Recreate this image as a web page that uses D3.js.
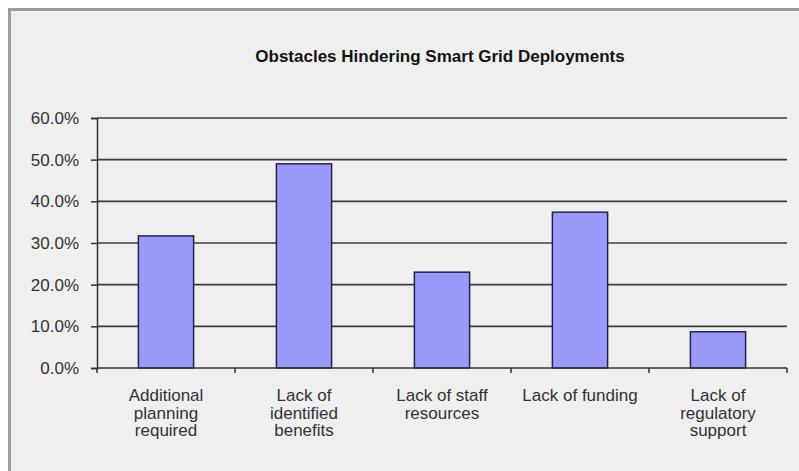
<!DOCTYPE html>
<html>
<head>
<meta charset="utf-8">
<script src="https://cdn.jsdelivr.net/npm/d3@7"></script>
<style>
  html, body { margin: 0; padding: 0; background: #ffffff; }
  svg { display: block; }
  text { font-family: "Liberation Sans", Arial, sans-serif; }
</style>
</head>
<body>
<svg id="chart" width="799" height="471"></svg>
<script>
// Survey results: share of respondents naming each obstacle
const categories = [
  "Additional planning required",
  "Lack of identified benefits",
  "Lack of staff resources",
  "Lack of funding",
  "Lack of regulatory support"
];
const shares = [0.317, 0.490, 0.230, 0.374, 0.087];
const yTicks = [0, 0.1, 0.2, 0.3, 0.4, 0.5, 0.6];
const chartTitle = "Obstacles Hindering Smart Grid Deployments";

const svg = d3.select("#chart");
const W = 799, H = 471;
const plot = { left: 97, right: 787, top: 118, bottom: 368 };

// chart area background with the frame on its top and left edges
svg.append("rect").attr("x", 8).attr("y", 8).attr("width", W - 8).attr("height", H - 8)
  .attr("fill", "#efefef");
svg.append("line").attr("x1", 8).attr("x2", W).attr("y1", 9.5).attr("y2", 9.5)
  .attr("stroke", "#9c9c9c").attr("stroke-width", 3);
svg.append("line").attr("x1", 9.5).attr("x2", 9.5).attr("y1", 8).attr("y2", H)
  .attr("stroke", "#9c9c9c").attr("stroke-width", 3);

const x = d3.scaleBand().domain(categories).range([plot.left, plot.right])
  .paddingInner(0.6).paddingOuter(0.3);
const xBand = d3.scaleBand().domain(categories).range([plot.left, plot.right]);
const y = d3.scaleLinear().domain([0, 0.6]).range([plot.bottom, plot.top]);

// title
svg.append("text")
  .attr("x", 440).attr("y", 62)
  .attr("text-anchor", "middle")
  .attr("font-size", 17).attr("font-weight", "bold")
  .attr("fill", "#141414")
  .text(chartTitle);

// horizontal gridlines
svg.append("g").selectAll("line").data(yTicks.slice(1)).join("line")
  .attr("x1", plot.left).attr("x2", plot.right)
  .attr("y1", d => y(d)).attr("y2", d => y(d))
  .attr("stroke", "#3c3c3c").attr("stroke-width", 1.7);

// bars
svg.append("g").selectAll("rect").data(shares).join("rect")
  .attr("x", (d, i) => x(categories[i]))
  .attr("width", x.bandwidth())
  .attr("y", d => y(d))
  .attr("height", d => y(0) - y(d))
  .attr("fill", "#9999fa")
  .attr("stroke", "#22224a").attr("stroke-width", 1.5);

// y axis
const yAxis = d3.axisLeft(y).tickValues(yTicks).tickFormat(d3.format(".1%"))
  .tickSize(6).tickPadding(12);
const gy = svg.append("g").attr("transform", `translate(${plot.left},0)`).call(yAxis);
gy.select(".domain").attr("stroke", "#333").attr("stroke-width", 1.5);
gy.selectAll(".tick line").attr("stroke", "#333").attr("stroke-width", 1.5);
gy.selectAll(".tick text").attr("font-size", 17).attr("fill", "#333")
  .attr("font-family", "Liberation Sans, Arial, sans-serif");

// x axis: ticks on the category boundaries
const gx = svg.append("g");
gx.append("line").attr("x1", plot.left).attr("x2", plot.right)
  .attr("y1", y(0)).attr("y2", y(0))
  .attr("stroke", "#333").attr("stroke-width", 1.5);
const boundaries = categories.map(c => xBand(c)).concat([plot.right]);
gx.selectAll("line.b").data(boundaries).join("line").attr("class", "b")
  .attr("x1", d => d).attr("x2", d => d)
  .attr("y1", y(0)).attr("y2", y(0) + 5)
  .attr("stroke", "#333").attr("stroke-width", 1.5);

// wrapped category labels
const labels = svg.append("g").selectAll("text").data(categories).join("text")
  .attr("text-anchor", "middle")
  .attr("font-size", 17).attr("fill", "#333")
  .attr("transform", d => `translate(${xBand(d) + xBand.bandwidth() / 2},401)`);

labels.each(function (d) {
  const t = d3.select(this);
  const words = d.split(" ");
  let line = [];
  let lineNo = 0;
  let tspan = t.append("tspan").attr("x", 0).attr("y", 0);
  words.forEach(w => {
    line.push(w);
    tspan.text(line.join(" "));
    if (tspan.node().getComputedTextLength() > 122 && line.length > 1) {
      line.pop();
      tspan.text(line.join(" "));
      line = [w];
      lineNo += 1;
      tspan = t.append("tspan").attr("x", 0).attr("y", lineNo * 17.5).text(w);
    }
  });
});
</script>
</body>
</html>
